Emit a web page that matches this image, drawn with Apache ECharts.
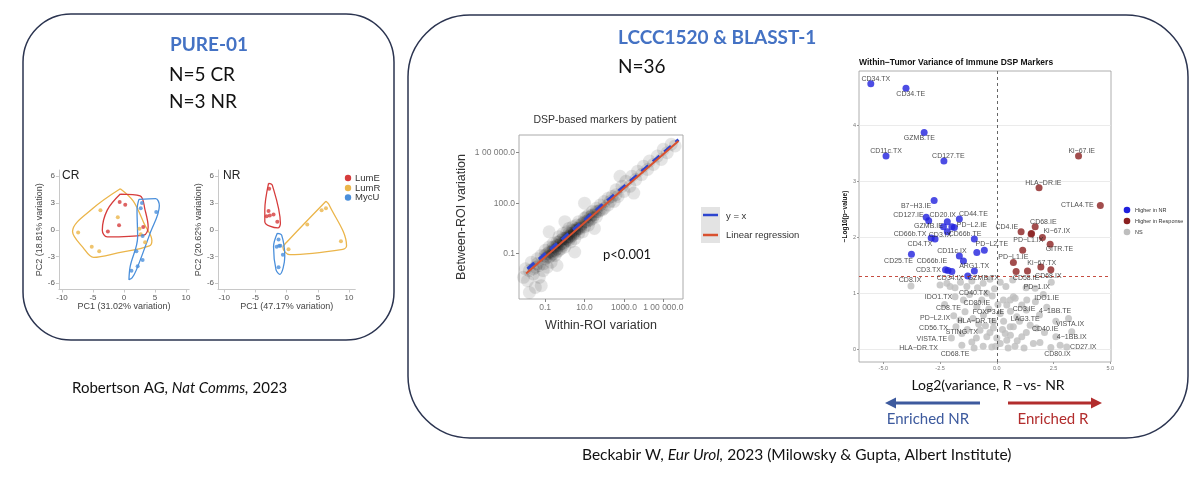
<!DOCTYPE html>
<html>
<head>
<meta charset="utf-8">
<script src="https://cdn.jsdelivr.net/npm/echarts@6/dist/echarts.min.js"></script>
<style>
html, body { margin: 0; padding: 0; background: #fff; }
#main { width: 1200px; height: 481px; }
</style>
</head>
<body>
<div id="main"></div>
<script>
var myChart = echarts.init(document.getElementById('main'));

// ---- PURE-01 PCA, CR ----
var crLumE = [[-0.7,3.1],[0.2,2.8],[-2.6,-0.2],[-0.8,0.5],[3.1,0.3]];
var crLumR = [[-3.8,2.2],[-1.0,1.4],[-7.4,-0.3],[-5.2,-1.9],[-4.0,-2.4],[2.5,0.1],[3.4,-1.4],[2.7,-0.5]];
var crMycU = [[2.9,3.0],[2.7,2.4],[5.2,2.0],[3.0,-0.7],[2.0,-2.4],[3.0,-3.4],[2.2,-4.1],[1.2,-4.6]];
var crHullLumE = [[-0.6,4.0],[2.6,3.8],[3.4,2.2],[3.9,0.3],[3.2,-0.6],[-2.7,-0.8],[-3.5,-0.05],[-2.7,2.2],[-0.6,4.0]];
var crHullLumR = [[-0.6,4.6],[1.5,3.2],[3.3,0.6],[4.5,-1.2],[4.1,-1.8],[-1.0,-2.6],[-4.9,-3.1],[-6.6,-2.0],[-8.3,-0.2],[-5.0,2.4],[-0.6,4.6]];
var crHullMycU = [[2.4,3.4],[5.1,3.5],[5.7,2.7],[4.2,-0.4],[2.0,-4.5],[1.3,-5.4],[0.8,-5.6],[1.0,-4.1],[2.2,-0.8],[2.1,2.2],[2.4,3.4]];

// ---- PURE-01 PCA, NR ----
var nrLumE = [[-2.8,4.6],[-2.9,2.1],[-3.2,1.5],[-2.7,1.6],[-2.1,1.7],[-1.5,0.9]];
var nrLumR = [[5.6,2.2],[6.3,2.4],[3.3,0.6],[8.7,-1.3],[0.3,-2.2]];
var nrMycU = [[-1.3,-1.1],[-1.6,-1.9],[-1.2,-1.8],[-1.0,-1.8],[-0.6,-2.8],[-1.3,-4.2]];
var nrHullLumE = [[-2.9,5.2],[-2.3,5.0],[-1.0,0.7],[-1.4,0.2],[-3.5,0.9],[-3.5,2.2],[-2.9,5.2]];
var nrHullLumR = [[6.3,3.2],[6.8,2.8],[9.6,-1.8],[9.0,-2.2],[0.5,-2.8],[-0.6,-2.0],[0.0,-1.4],[6.3,3.2]];
var nrHullMycU = [[-1.5,-0.4],[-0.8,-0.6],[-0.3,-3.0],[-1.1,-5.0],[-1.7,-4.5],[-2.1,-1.9],[-1.5,-0.4]];

var pcaXTicks = [-10, -5, 0, 5, 10];
var pcaYTicks = [-6, -3, 0, 3, 6];

// ---- DSP-based markers by patient (log10 values) ----
var dspCloud = [
  [-2.1,-2.4],[-2.0,-1.9],[-1.9,-2.6],[-1.8,-2.0],[-1.7,-1.5],[-1.6,-2.2],[-1.5,-1.8],[-1.5,-3.0],[-1.4,-1.3],[-1.3,-2.4],
  [-1.3,-1.7],[-1.2,-1.1],[-1.1,-1.6],[-1.1,-2.0],[-1.0,-0.8],[-1.0,-1.3],[-0.9,-1.0],[-0.9,-1.8],[-0.8,-0.6],[-0.8,-1.2],
  [-0.7,-0.9],[-0.7,-1.5],[-0.6,-0.4],[-0.6,-0.8],[-0.5,-1.1],[-0.5,-0.6],[-0.4,-0.3],[-0.4,-0.9],[-0.3,-0.5],[-0.3,0.0],
  [-0.2,-0.7],[-0.2,-0.2],[-0.1,0.2],[-0.1,-0.4],[0.0,-0.1],[0.0,-0.6],[0.1,0.3],[0.1,-0.2],[0.2,0.0],[0.2,0.5],
  [0.3,-0.3],[0.3,0.2],[0.4,0.6],[0.4,0.1],[0.5,0.3],[0.5,-0.1],[0.6,0.7],[0.6,0.4],[0.7,0.2],[0.7,0.9],
  [0.8,0.5],[0.9,0.8],[0.9,0.3],[1.0,1.1],[1.0,0.6],[1.1,0.9],[1.2,0.7],[1.2,1.3],[1.3,1.0],[1.4,1.5],
  [1.4,1.1],[1.5,1.3],[1.6,1.7],[1.6,1.2],[1.7,1.5],[1.8,1.9],[1.9,1.6],[2.0,2.1],[2.0,1.7],[2.2,2.3],
  [2.2,1.9],[2.4,2.4],[2.5,2.1],[2.6,2.8],[2.7,2.4],[2.9,3.0],[3.0,2.7],[3.1,3.3],[3.3,3.0],[3.4,3.6],
  [3.6,3.4],[3.7,3.9],[3.9,3.7],[4.0,4.2],[4.2,4.0],[4.3,4.5],[4.5,4.3],[4.7,4.8],[4.9,4.6],[5.0,5.2],
  [5.2,5.0],[5.4,5.5],[5.6,5.4],[-1.8,-3.3],[-1.2,-2.9],[-0.4,-1.7],[0.5,-0.9],[1.5,0.5],[-0.8,0.3],[0.0,0.9],
  [1.0,2.0],[2.8,3.6],[3.5,2.6],
  [-1.0,-1.1],[-0.8,-0.9],[-0.6,-0.6],[-0.5,-0.8],[-0.4,-0.5],[-0.3,-0.3],[-0.2,-0.4],[-0.1,-0.1],[0.0,-0.3],[0.1,0.0],
  [0.2,0.2],[0.3,0.0],[0.4,0.4],[0.5,0.2],[0.6,0.5],[0.8,0.7],[1.0,0.9],[1.2,1.0],[1.4,1.3],[1.6,1.5],
  [-0.7,-1.1],[-0.3,-0.8],[0.2,-0.2],[0.7,0.5],[1.1,1.2],
  [-0.9,-1.2],[-0.6,-1.0],[-0.4,-0.7],[-0.1,-0.5],[0.1,-0.1],[0.3,0.1],[0.5,0.4],[0.8,0.6],[1.3,1.2],[1.8,1.6],
  [2.3,2.1],[2.6,2.5],[-1.4,-1.6],[-1.6,-1.9]
];
var identityLine = [[-1.9,-1.9],[5.77,5.77]];
var regressionLine = [[-1.97,-2.17],[5.77,5.70]];
var dspXTicks = [-1, 1, 3, 5];
var dspYTicks = [-1, 2, 5];
var dspTickText = {'-1': '0.1', '1': '10.0', '2': '100.0', '3': '1000.0', '5': '1 00 000.0'};

// ---- Within-tumor variance volcano ----
var volHigherNR = [[-5.55,4.75],[-4.0,4.67],[-3.2,3.88],[-4.88,3.46],[-2.33,3.37],[-2.76,2.66],[-3.11,2.36],[-3.0,2.30],
  [-2.18,2.28],[-1.65,2.33],[-2.35,2.19],[-1.98,2.19],[-1.87,2.18],[-2.18,2.10],[-0.99,1.97],[-2.89,1.99],[-2.72,1.97],
  [-0.55,1.77],[-0.88,1.73],[-3.76,1.70],[-1.65,1.67],[-1.47,1.58],[-0.99,1.40],[-2.26,1.42],[-2.15,1.41],[-1.98,1.39],[-1.28,1.31]];
var volHigherR = [[3.6,3.46],[1.86,2.89],[4.56,2.57],[1.69,2.19],[1.07,2.10],[1.53,2.07],[1.51,2.06],[2.01,2.0],[2.35,1.88],
  [1.14,1.77],[0.73,1.55],[1.94,1.47],[0.85,1.39],[1.35,1.40],[2.38,1.42]];
var volNS = [
  [-3.78,1.13],[-2.5,1.15],[-2.2,1.18],[-2.06,1.12],[-1.84,1.1],[-1.6,1.2],[-1.32,1.12],[-1.1,1.22],[-0.85,1.1],[-0.6,1.18],
  [-0.44,1.0],[-0.3,1.25],[-0.1,1.08],[0.15,1.2],[0.4,1.12],[0.7,1.24],[1.29,1.1],[1.69,1.09],[2.4,1.2],[-1.84,0.94],
  [-1.47,0.88],[-0.66,0.88],[-1.2,0.98],[0.29,0.88],[0.73,0.94],[1.32,0.88],[0.59,0.88],[0.81,0.91],[-0.2,0.95],[2.05,0.98],
  [-1.4,0.67],[-0.88,0.76],[-0.59,0.61],[0.15,0.64],[0.44,0.79],[1.10,0.79],[0.88,0.58],[1.88,0.61],[-1.62,0.52],[-0.15,0.49],
  [-1.05,0.55],[-0.35,0.72],[0.3,0.5],[0.6,0.68],[1.3,0.7],[1.47,0.43],[2.2,0.75],[-2.3,0.8],[-1.9,0.6],[-0.8,0.45],
  [0.05,0.8],[1.0,0.5],[2.6,0.5],[3.16,0.55],[-0.5,0.42],[0.59,0.40],[0.73,0.4],[1.7,0.85],
  [-1.54,0.28],[-1.54,0.07],[-1.1,0.13],[-0.74,0.34],[-0.44,0.22],[-0.22,0.04],[0.15,0.10],[0.44,0.16],[0.37,0.28],[1.10,0.22],
  [1.61,0.10],[1.9,0.12],[2.38,0.03],[2.79,0.07],[3.08,0.04],[3.3,0.31],[-1.3,0.35],[-0.9,0.2],[-0.6,0.05],[-0.3,0.3],
  [0.0,0.2],[0.25,0.35],[0.6,0.25],[0.8,0.05],[1.3,0.3],[-2.0,0.2],[-1.8,0.4],[2.1,0.3],[0.9,0.15],[-0.05,0.05],
  [0.5,0.02],[1.2,0.02],[-1.0,0.02],[2.6,0.22],[1.75,0.38],[-0.15,0.38]
];
var volLabelsNR = [[-5.33,4.84,'CD34.TX'],[-3.79,4.57,'CD34.TE'],[-3.41,3.78,'GZMB.TE'],[-4.88,3.54,'CD11c.TX'],[-2.13,3.45,'CD127.TE'],
  [-3.56,2.57,'B7−H3.IE'],[-3.89,2.40,'CD127.IE'],[-2.38,2.40,'CD20.IX'],[-1.03,2.41,'CD44.TE'],[-3.01,2.20,'GZMB.IE'],
  [-1.10,2.23,'PD−L2.IE'],[-3.82,2.06,'CD66b.TX'],[-2.50,2.04,'CD3.IX'],[-1.40,2.06,'CD66b.TE'],[-3.38,1.88,'CD4.TX'],
  [-0.22,1.88,'PD−L2.TE'],[-1.98,1.76,'CD11c.IX'],[-4.33,1.58,'CD25.TE'],[-2.86,1.58,'CD66b.IE'],[-1.0,1.49,'ARG1.TX'],
  [-3.01,1.42,'CD3.TX'],[-2.06,1.27,'CD34.IX'],[-0.59,1.27,'GZMB.TX']];
var volLabelsR = [[3.74,3.54,'Ki−67.IE'],[2.05,2.97,'HLA−DR.IE'],[3.55,2.58,'CTLA4.TE'],[2.05,2.28,'CD68.IE'],[2.64,2.11,'Ki−67.IX'],
  [0.44,2.19,'CD4.IE'],[1.39,1.95,'PD−L1.IX'],[2.76,1.79,'GITR.TE'],[0.73,1.65,'PD−L1.IE'],[1.98,1.55,'Ki−67.TX'],
  [1.29,1.28,'CD58.IE'],[2.27,1.30,'CD68.IX']];
var volLabelsNS = [[-3.82,1.24,'CD8.IX'],[1.76,1.11,'PD−1.IX'],[-1.03,1.01,'CD40.TX'],[-2.57,0.94,'IDO1.TX'],[2.2,0.91,'IDO1.IE'],
  [-0.88,0.83,'CD80.IE'],[-2.13,0.73,'CD8.TE'],[-0.37,0.66,'FOXP3.IE'],[1.2,0.72,'CD3.IE'],[2.57,0.69,'4−1BB.TE'],
  [-2.72,0.56,'PD−L2.IX'],[-0.88,0.50,'HLA−DR.TE'],[1.25,0.54,'LAG3.TE'],[-2.79,0.38,'CD56.TX'],[2.13,0.36,'CD40.IE'],
  [3.23,0.45,'VISTA.IX'],[-1.54,0.30,'STING.TX'],[3.30,0.21,'4−1BB.IX'],[-2.86,0.18,'VISTA.TE'],[3.81,0.04,'CD27.IX'],
  [-3.45,0.02,'HLA−DR.TX'],[2.67,-0.09,'CD80.IX'],[-1.84,-0.09,'CD68.TE']];
var volXTicks = [-5, -2.5, 0, 2.5, 5];
var volYTicks = [0, 1, 2, 3, 4];
var pThreshold = 1.30;

var cLumE = '#D63C3C', cLumR = '#EBB54A', cMycU = '#4A8FDB';
var cNR = '#2020DD', cR = '#8B2020', cNS = '#BEBEBE';
var navy = '#2B3450';

function pcaAxes(grid, xmin, xmax, xname, yname) {
  var common = {
    gridIndex: grid, type: 'value',
    axisLine: {show: true, onZero: false, lineStyle: {color: '#C8C8C8', width: 1}},
    splitLine: {show: false},
    nameLocation: 'middle',
    nameTextStyle: {fontSize: 9, color: '#444', fontFamily: 'Liberation Sans'}
  };
  var x = Object.assign({}, common, {min: xmin, max: xmax, name: xname, nameGap: 13,
    axisTick: {show: true, length: 3, customValues: pcaXTicks, lineStyle: {color: '#C8C8C8'}},
    axisLabel: {customValues: pcaXTicks, fontSize: 8, color: '#555', margin: 4}});
  var y = Object.assign({}, common, {min: -6.7, max: 6.7, name: yname, nameGap: 11,
    axisTick: {show: true, length: 3, customValues: pcaYTicks, lineStyle: {color: '#C8C8C8'}},
    axisLabel: {customValues: pcaYTicks, fontSize: 8, color: '#555', margin: 4}});
  return [x, y];
}

function pts(data, color, xi, yi) {
  return {type: 'scatter', xAxisIndex: xi, yAxisIndex: yi, data: data, symbolSize: 4,
    itemStyle: {color: color}, z: 3, silent: true};
}
function hull(data, color, xi, yi) {
  return {type: 'line', xAxisIndex: xi, yAxisIndex: yi, data: data, showSymbol: false, smooth: 0.35,
    lineStyle: {color: color, width: 1.3}, z: 2, silent: true};
}
function labels(data, xi, yi) {
  return {type: 'scatter', xAxisIndex: xi, yAxisIndex: yi, data: data, symbolSize: 1,
    itemStyle: {color: 'rgba(0,0,0,0)'}, silent: true, z: 6,
    label: {show: true, position: 'inside', fontSize: 7, color: '#222', fontFamily: 'Liberation Sans',
      formatter: function (p) { return p.data[2]; }}};
}

var crAx = pcaAxes(0, -10.5, 10.5, 'PC1 (31.02% variation)', 'PC2 (18.81% variation)');
var nrAx = pcaAxes(1, -11, 11, 'PC1 (47.17% variation)', 'PC2 (20.62% variation)');

var option = {
  animation: false,
  backgroundColor: '#fff',
  grid: [
    {left: 58.9, top: 170, width: 130.2, height: 119.5, outerBoundsMode: 'none'},
    {left: 218, top: 170, width: 137.3, height: 119.5, outerBoundsMode: 'none'},
    {left: 519, top: 135, width: 164, height: 164, show: true, borderColor: '#AAAAAA', borderWidth: 1, outerBoundsMode: 'none'},
    {left: 859, top: 71, width: 252, height: 291, show: true, borderColor: '#9A9A9A', borderWidth: 0.8, outerBoundsMode: 'none'}
  ],
  xAxis: [
    crAx[0], nrAx[0],
    {gridIndex: 2, type: 'value', min: -2.33, max: 6.0,
      name: 'Within-ROI variation', nameLocation: 'middle', nameGap: 20,
      nameTextStyle: {fontSize: 12.5, color: '#333', fontFamily: 'Liberation Sans'},
      axisLine: {show: false, onZero: false}, splitLine: {show: false},
      axisTick: {show: true, length: 3, customValues: dspXTicks, lineStyle: {color: '#888'}},
      axisLabel: {customValues: dspXTicks, fontSize: 8.5, color: '#777', margin: 4,
        formatter: function (v) { return dspTickText[String(v)]; }}},
    {gridIndex: 3, type: 'value', min: -6.07, max: 5.03,
      axisLine: {show: false, onZero: false}, splitLine: {show: false},
      axisTick: {show: true, length: 2, customValues: volXTicks, lineStyle: {color: '#999'}},
      axisLabel: {customValues: volXTicks, fontSize: 5.5, color: '#777', margin: 3,
        formatter: function (v) { return v.toFixed(1); }}}
  ],
  yAxis: [
    crAx[1], nrAx[1],
    {gridIndex: 2, type: 'value', min: -3.69, max: 6.05,
      name: 'Between-ROI variation', nameLocation: 'middle', nameGap: 51,
      nameTextStyle: {fontSize: 12.5, color: '#333', fontFamily: 'Liberation Sans'},
      axisLine: {show: false, onZero: false}, splitLine: {show: false},
      axisTick: {show: true, length: 3, customValues: dspYTicks, lineStyle: {color: '#888'}},
      axisLabel: {customValues: dspYTicks, fontSize: 8.5, color: '#777', margin: 4,
        formatter: function (v) { return dspTickText[String(v)]; }}},
    {gridIndex: 3, type: 'value', min: -0.23, max: 4.98, splitNumber: 5,
      name: '−Log10(p−value)', nameLocation: 'middle', nameGap: 9,
      nameTextStyle: {fontSize: 6.5, fontWeight: 'bold', color: '#111', fontFamily: 'Liberation Sans'},
      axisLine: {show: false, onZero: false},
      splitLine: {show: true, lineStyle: {color: '#E6E6E6', width: 0.8}},
      axisTick: {show: true, length: 2, customValues: volYTicks, lineStyle: {color: '#999'}},
      axisLabel: {customValues: volYTicks, fontSize: 5.5, color: '#777', margin: 3}}
  ],
  series: [
    hull(crHullLumR, cLumR, 0, 0), hull(crHullLumE, cLumE, 0, 0), hull(crHullMycU, cMycU, 0, 0),
    pts(crLumR, cLumR, 0, 0), pts(crLumE, cLumE, 0, 0), pts(crMycU, cMycU, 0, 0),
    hull(nrHullLumR, cLumR, 1, 1), hull(nrHullLumE, cLumE, 1, 1), hull(nrHullMycU, cMycU, 1, 1),
    pts(nrLumR, cLumR, 1, 1), pts(nrLumE, cLumE, 1, 1), pts(nrMycU, cMycU, 1, 1),
    {type: 'scatter', xAxisIndex: 2, yAxisIndex: 2, data: dspCloud, symbolSize: 13, silent: true,
      itemStyle: {color: 'rgba(0,0,0,0.12)', shadowBlur: 6, shadowColor: 'rgba(0,0,0,0.12)'}, z: 2},
    {type: 'line', xAxisIndex: 2, yAxisIndex: 2, data: identityLine, showSymbol: false, silent: true, z: 3,
      lineStyle: {color: '#2D45CF', width: 3, type: [9, 6]}},
    {type: 'line', xAxisIndex: 2, yAxisIndex: 2, data: regressionLine, showSymbol: false, silent: true, z: 4,
      lineStyle: {color: '#D9512F', width: 2}},
    {type: 'scatter', xAxisIndex: 3, yAxisIndex: 3, data: volNS, symbolSize: 7, silent: true,
      itemStyle: {color: cNS}, z: 2,
      markLine: {silent: true, symbol: 'none', label: {show: false},
        data: [
          {xAxis: 0, lineStyle: {color: '#555', type: [3, 3], width: 0.9}},
          {yAxis: pThreshold, lineStyle: {color: '#C0392B', type: [3, 3], width: 0.9}}
        ]}},
    {type: 'scatter', xAxisIndex: 3, yAxisIndex: 3, data: volHigherNR, symbolSize: 7, silent: true,
      itemStyle: {color: cNR}, z: 4},
    {type: 'scatter', xAxisIndex: 3, yAxisIndex: 3, data: volHigherR, symbolSize: 7, silent: true,
      itemStyle: {color: cR}, z: 4},
    labels(volLabelsNR, 3, 3), labels(volLabelsR, 3, 3), labels(volLabelsNS, 3, 3)
  ],
  graphic: [
    {type: 'rect', shape: {x: 23, y: 14, width: 371, height: 326, r: 48}, silent: true,
      style: {fill: 'none', stroke: navy, lineWidth: 1.5}},
    {type: 'rect', shape: {x: 408, y: 15, width: 780, height: 423, r: 62}, silent: true,
      style: {fill: 'none', stroke: navy, lineWidth: 1.5}},
    {type: 'text', x: 209, y: 45, silent: true, style: {text: 'PURE-01', fill: '#4472C4', font: 'bold 19px Lato',
      textAlign: 'center', textVerticalAlign: 'middle'}},
    {type: 'text', x: 169, y: 75, silent: true, style: {text: 'N=5 CR', fill: '#111', font: '19px Lato',
      textAlign: 'left', textVerticalAlign: 'middle'}},
    {type: 'text', x: 169, y: 102, silent: true, style: {text: 'N=3 NR', fill: '#111', font: '19px Lato',
      textAlign: 'left', textVerticalAlign: 'middle'}},
    {type: 'text', x: 618, y: 38, silent: true, style: {text: 'LCCC1520 & BLASST-1', fill: '#4472C4', font: 'bold 19px Lato',
      textAlign: 'left', textVerticalAlign: 'middle'}},
    {type: 'text', x: 618, y: 67, silent: true, style: {text: 'N=36', fill: '#111', font: '19px Lato',
      textAlign: 'left', textVerticalAlign: 'middle'}},
    {type: 'text', x: 62, y: 176, silent: true, style: {text: 'CR', fill: '#222', font: '12px Liberation Sans',
      textAlign: 'left', textVerticalAlign: 'middle'}},
    {type: 'text', x: 223, y: 176, silent: true, style: {text: 'NR', fill: '#222', font: '12px Liberation Sans',
      textAlign: 'left', textVerticalAlign: 'middle'}},
    // PCA legend
    {type: 'circle', shape: {cx: 348, cy: 178, r: 3.2}, silent: true, style: {fill: cLumE}},
    {type: 'circle', shape: {cx: 348, cy: 188, r: 3.2}, silent: true, style: {fill: cLumR}},
    {type: 'circle', shape: {cx: 348, cy: 197.5, r: 3.2}, silent: true, style: {fill: cMycU}},
    {type: 'text', x: 355, y: 178, silent: true, style: {text: 'LumE', fill: '#333', font: '9.5px Liberation Sans', textVerticalAlign: 'middle'}},
    {type: 'text', x: 355, y: 188, silent: true, style: {text: 'LumR', fill: '#333', font: '9.5px Liberation Sans', textVerticalAlign: 'middle'}},
    {type: 'text', x: 355, y: 197.5, silent: true, style: {text: 'MycU', fill: '#333', font: '9.5px Liberation Sans', textVerticalAlign: 'middle'}},
    // DSP title, p value, legend
    {type: 'text', x: 605, y: 120, silent: true, style: {text: 'DSP-based markers by patient', fill: '#333',
      font: '10.5px Liberation Sans', textAlign: 'center', textVerticalAlign: 'middle'}},
    {type: 'text', x: 603, y: 255, silent: true, style: {text: 'p<0.001', fill: '#111', font: '13px Lato',
      textAlign: 'left', textVerticalAlign: 'middle'}},
    {type: 'rect', shape: {x: 701, y: 207, width: 19, height: 36}, silent: true, style: {fill: '#E3E3E3'}},
    {type: 'line', shape: {x1: 703, y1: 215, x2: 718, y2: 215}, silent: true, style: {stroke: '#2D45CF', lineWidth: 2.5}},
    {type: 'line', shape: {x1: 703, y1: 235, x2: 718, y2: 235}, silent: true, style: {stroke: '#D9512F', lineWidth: 2.5}},
    {type: 'text', x: 726, y: 216, silent: true, style: {text: 'y = x', fill: '#333', font: '9.5px Liberation Sans', textVerticalAlign: 'middle'}},
    {type: 'text', x: 726, y: 235, silent: true, style: {text: 'Linear regression', fill: '#333', font: '9.5px Liberation Sans', textVerticalAlign: 'middle'}},
    // volcano title and legend
    {type: 'text', x: 859, y: 63, silent: true, style: {text: 'Within−Tumor Variance of Immune DSP Markers', fill: '#111',
      font: 'bold 8.5px Liberation Sans', textAlign: 'left', textVerticalAlign: 'middle'}},
    {type: 'circle', shape: {cx: 1127, cy: 210, r: 3.3}, silent: true, style: {fill: cNR}},
    {type: 'circle', shape: {cx: 1127, cy: 221, r: 3.3}, silent: true, style: {fill: cR}},
    {type: 'circle', shape: {cx: 1127, cy: 232, r: 3.3}, silent: true, style: {fill: cNS}},
    {type: 'text', x: 1135, y: 210, silent: true, style: {text: 'Higher in NR', fill: '#333', font: '5.5px Liberation Sans', textVerticalAlign: 'middle'}},
    {type: 'text', x: 1135, y: 221, silent: true, style: {text: 'Higher in Response', fill: '#333', font: '5.5px Liberation Sans', textVerticalAlign: 'middle'}},
    {type: 'text', x: 1135, y: 232, silent: true, style: {text: 'NS', fill: '#333', font: '5.5px Liberation Sans', textVerticalAlign: 'middle'}},
    // volcano axis caption and arrows
    {type: 'text', x: 988, y: 385, silent: true, style: {text: 'Log2(variance, R –vs- NR', fill: '#111', font: '14px Lato',
      textAlign: 'center', textVerticalAlign: 'middle'}},
    {type: 'line', shape: {x1: 980, y1: 403, x2: 893, y2: 403}, silent: true, style: {stroke: '#3D5A9E', lineWidth: 3}},
    {type: 'polygon', shape: {points: [[885, 403], [896, 397.5], [896, 408.5]]}, silent: true, style: {fill: '#3D5A9E'}},
    {type: 'line', shape: {x1: 1008, y1: 403, x2: 1094, y2: 403}, silent: true, style: {stroke: '#B22D2D', lineWidth: 3}},
    {type: 'polygon', shape: {points: [[1102, 403], [1091, 397.5], [1091, 408.5]]}, silent: true, style: {fill: '#B22D2D'}},
    {type: 'text', x: 928, y: 419, silent: true, style: {text: 'Enriched NR', fill: '#3D5A9E', font: '15px Lato',
      textAlign: 'center', textVerticalAlign: 'middle'}},
    {type: 'text', x: 1053, y: 419, silent: true, style: {text: 'Enriched R', fill: '#B22D2D', font: '15px Lato',
      textAlign: 'center', textVerticalAlign: 'middle'}},
    // citations
    {type: 'text', x: 72, y: 388, silent: true, style: {
      text: '{n|Robertson AG, }{i|Nat Comms,}{n| 2023}', textVerticalAlign: 'middle',
      rich: {n: {font: '15px Lato', fill: '#111'}, i: {font: 'italic 15px Lato', fill: '#111'}}}},
    {type: 'text', x: 582, y: 455, silent: true, style: {
      text: '{n|Beckabir W, }{i|Eur Urol,}{n| 2023 (Milowsky & Gupta, Albert Institute)}', textVerticalAlign: 'middle',
      rich: {n: {font: '15.5px Lato', fill: '#111'}, i: {font: 'italic 15.5px Lato', fill: '#111'}}}}
  ]
};
myChart.setOption(option);
</script>
</body>
</html>
